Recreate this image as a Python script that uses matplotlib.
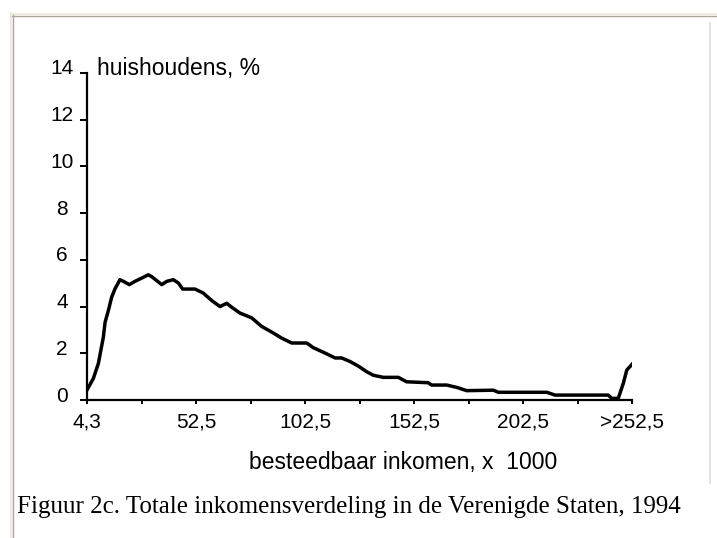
import matplotlib
matplotlib.use("Agg")
import matplotlib.pyplot as plt
from matplotlib.lines import Line2D
import matplotlib.transforms as mtransforms

# income (x 1000) and share of households (%)
income = [2.5, 5.4, 7.7, 10.0, 10.8, 12.3, 13.8, 15.3, 17.6, 19.2,
          21.9, 24.5, 27.6, 30.6, 32.2, 34.5, 36.8, 39.1, 42.1, 44.4,
          46.4, 52.0, 55.8, 59.7, 63.5, 66.6, 68.9, 72.7, 78.0, 82.6,
          87.2, 91.8, 96.4, 103.3, 106.3, 111.7, 116.3, 119.3, 123.1, 127.0,
          130.8, 133.8, 138.4, 145.3, 149.1, 159.0, 160.6, 167.5, 172.1, 176.7,
          188.9, 191.2, 213.4, 217.2, 241.6, 243.2, 246.2, 248.5, 250.1, 252.5]
households = [0.43, 0.92, 1.56, 2.69, 3.33, 3.83, 4.40, 4.75, 5.15, 5.08,
              4.94, 5.08, 5.22, 5.36, 5.28, 5.11, 4.94, 5.08, 5.15, 5.01,
              4.75, 4.75, 4.58, 4.26, 4.00, 4.14, 3.97, 3.72, 3.52, 3.15,
              2.91, 2.65, 2.44, 2.44, 2.24, 2.01, 1.80, 1.80, 1.65, 1.45,
              1.21, 1.06, 0.97, 0.97, 0.78, 0.74, 0.64, 0.64, 0.54, 0.40,
              0.42, 0.33, 0.33, 0.21, 0.21, 0.07, 0.07, 0.71, 1.28, 1.53]

x_ticks = [2.5 + 25 * k for k in range(11)]
x_tick_labels = ["4,3", "", "52,5", "", "102,5", "", "152,5", "", "202,5", "", ">252,5"]
y_ticks = [0, 2, 4, 6, 8, 10, 12, 14]

plt.rcParams['font.family'] = ['Liberation Sans', 'DejaVu Sans']

W, H = 717, 538
fig = plt.figure(figsize=(W / 100, H / 100), dpi=100)
fig.patch.set_facecolor('white')

# window-like frame
def hline(x0, x1, y, c, lw=1.0):
    fig.add_artist(Line2D([x0 / W, x1 / W], [1 - y / H, 1 - y / H], color=c, lw=lw,
                          transform=fig.transFigure))

def vline(x, y0, y1, c, lw=1.0):
    fig.add_artist(Line2D([x / W, x / W], [1 - y0 / H, 1 - y1 / H], color=c, lw=lw,
                          transform=fig.transFigure))

hline(10, W, 13.5, '#ece9d8', 1.2)
hline(11, W, 15.5, '#aca899', 1.0)
vline(10.5, 13, H, '#ece9d8', 1.2)
vline(12.5, 15, H, '#aca899', 1.0)
vline(710, 23, 483, '#dcdcdc', 1.2)

ax = fig.add_axes([87 / W, 1 - 400 / H, (632 - 87) / W, (400 - 73) / H])
ax.plot(income, households, color='black', lw=2.5, solid_joinstyle='round')

ax.set_xlim(2.5, 252.5)
ax.set_ylim(0, 14)
for s in ['top', 'right']:
    ax.spines[s].set_visible(False)
for s in ['left', 'bottom']:
    ax.spines[s].set_linewidth(1.6)
    ax.spines[s].set_color('black')

ax.set_xticks(x_ticks)
ax.set_xticklabels(x_tick_labels)
ax.set_yticks(y_ticks)
ax.set_yticklabels([str(v) for v in y_ticks])
ax.tick_params(axis='y', direction='out', length=5, width=1.4, pad=3,
               labelsize=15, colors='black')
ax.tick_params(axis='x', direction='out', length=3, width=1.4, pad=6,
               labelsize=15, colors='black')

offset = mtransforms.ScaledTranslation(-0.14, 6 / 100, fig.dpi_scale_trans)
for lab in ax.get_yticklabels():
    lab.set_horizontalalignment('center')
    lab.set_transform(lab.get_transform() + offset)

fig.text(97 / W, 1 - 68 / H, "huishoudens, %", fontsize=16.5, va='center', ha='left')
fig.text(403 / W, 1 - 463 / H, "besteedbaar inkomen, x  1000", fontsize=16.5,
         va='center', ha='center')
fig.text(17 / W, 1 - 507 / H,
         "Figuur 2c. Totale inkomensverdeling in de Verenigde Staten, 1994",
         fontsize=18, va='center', ha='left', family=['Liberation Serif', 'DejaVu Serif'])

fig.savefig("out.png", dpi=100)
